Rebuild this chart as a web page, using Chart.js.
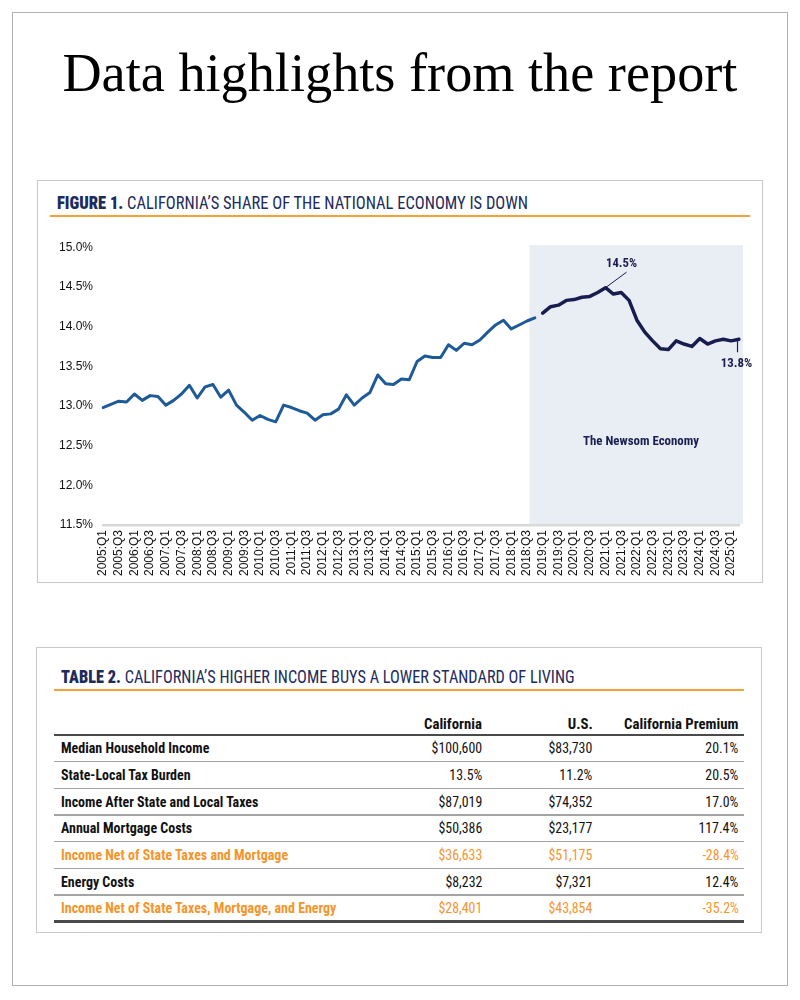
<!DOCTYPE html>
<html>
<head>
<meta charset="utf-8">
<script src="https://cdn.jsdelivr.net/npm/chart.js@4.4.1/dist/chart.umd.min.js"></script>
<style>
  :root { --cond: "Liberation Sans Narrow", "Roboto Condensed", "DejaVu Sans Condensed", "Liberation Sans", Arial, sans-serif; }
  html, body { margin: 0; padding: 0; background: #fff; }
  body { width: 800px; height: 1000px; position: relative; overflow: hidden; font-family: "Liberation Sans", Arial, sans-serif; }
  .frame { position: absolute; left: 12px; top: 12px; width: 774px; height: 972px; border: 1px solid #b3b3b3; }
  .main-title { position: absolute; left: 0; width: 800px; top: 38px; text-align: center; font-family: "Liberation Serif", "Times New Roman", serif; font-size: 54px; line-height: 70px; color: #000; white-space: nowrap; }
  .main-title span { display: inline-block; }
  .box { position: absolute; border: 1px solid #c9c9c9; background: #fff; }
  .ttl { position: absolute; white-space: nowrap; font-family: var(--cond); font-stretch: condensed; font-size: 17.5px; color: #1d2b5d; line-height: 20px; }
  .ttl span { display: inline-block; }
  .ttl b { font-weight: 900; }
  .rule { position: absolute; height: 2px; background: #f7a035; }
  #chartCanvas { position: absolute; left: 40px; top: 230px; }
  .cell { position: absolute; height: 20px; line-height: 20px; white-space: nowrap; font-family: var(--cond); font-stretch: condensed; font-size: 14px; color: #111; }
  .cell span { display: inline-block; }
  .lbl { font-weight: bold; }
  .hdr { font-weight: bold; }
  .num { font-weight: normal; }
  .hl { color: #f5952a; }
  .tline { position: absolute; left: 54px; width: 690px; }
</style>
</head>
<body>
<div class="frame"></div>
<div class="main-title"><span id="mainTitle">Data highlights from the report</span></div>

<div class="box" style="left:37px; top:180px; width:724px; height:401px;"></div>
<div class="ttl" style="left:57px; top:193px;"><span id="figTitle"><b>FIGURE 1.</b> CALIFORNIA’S SHARE OF THE NATIONAL ECONOMY IS DOWN</span></div>
<div class="rule" style="left:50px; top:215px; width:700px;"></div>
<canvas id="chartCanvas" width="720" height="350"></canvas>

<div class="box" style="left:36px; top:647px; width:724px; height:284px;"></div>
<div class="ttl" style="left:61px; top:667px;"><span id="tabTitle"><b>TABLE 2.</b> CALIFORNIA’S HIGHER INCOME BUYS A LOWER STANDARD OF LIVING</span></div>
<div class="rule" style="left:54px; top:689px; width:690px;"></div>
<div id="tableArea"></div>

<script>
// ---------------- DATA ----------------
const quarterLabels = [
  '2005:Q1','2005:Q2','2005:Q3','2005:Q4',
  '2006:Q1','2006:Q2','2006:Q3','2006:Q4',
  '2007:Q1','2007:Q2','2007:Q3','2007:Q4',
  '2008:Q1','2008:Q2','2008:Q3','2008:Q4',
  '2009:Q1','2009:Q2','2009:Q3','2009:Q4',
  '2010:Q1','2010:Q2','2010:Q3','2010:Q4',
  '2011:Q1','2011:Q2','2011:Q3','2011:Q4',
  '2012:Q1','2012:Q2','2012:Q3','2012:Q4',
  '2013:Q1','2013:Q2','2013:Q3','2013:Q4',
  '2014:Q1','2014:Q2','2014:Q3','2014:Q4',
  '2015:Q1','2015:Q2','2015:Q3','2015:Q4',
  '2016:Q1','2016:Q2','2016:Q3','2016:Q4',
  '2017:Q1','2017:Q2','2017:Q3','2017:Q4',
  '2018:Q1','2018:Q2','2018:Q3','2018:Q4',
  '2019:Q1','2019:Q2','2019:Q3','2019:Q4',
  '2020:Q1','2020:Q2','2020:Q3','2020:Q4',
  '2021:Q1','2021:Q2','2021:Q3','2021:Q4',
  '2022:Q1','2022:Q2','2022:Q3','2022:Q4',
  '2023:Q1','2023:Q2','2023:Q3','2023:Q4',
  '2024:Q1','2024:Q2','2024:Q3','2024:Q4',
  '2025:Q1','2025:Q2'
];

// California share of US GDP (%), 2005:Q1 - 2018:Q4
const shareBeforeNewsom = [
  12.98, 13.02, 13.06, 13.05,
  13.15, 13.07, 13.13, 13.12,
  13.01, 13.07, 13.15, 13.26,
  13.10, 13.24, 13.27, 13.11,
  13.20, 13.01, 12.92, 12.82,
  12.88, 12.83, 12.80, 13.01,
  12.98, 12.94, 12.91, 12.82,
  12.89, 12.90, 12.96, 13.14,
  13.01, 13.10, 13.17, 13.39,
  13.28, 13.27, 13.34, 13.33,
  13.56, 13.63, 13.61, 13.61,
  13.77, 13.70, 13.79, 13.77,
  13.83, 13.93, 14.02, 14.08,
  13.97, 14.02, 14.07, 14.11
];

// California share of US GDP (%), 2019:Q1 - 2025:Q2 ("The Newsom Economy")
const shareNewsom = [
  14.17, 14.25, 14.27, 14.33,
  14.34, 14.37, 14.38, 14.43,
  14.49, 14.41, 14.43, 14.33,
  14.08, 13.93, 13.82, 13.72,
  13.71, 13.82, 13.78, 13.75,
  13.85, 13.78, 13.82, 13.84,
  13.82, 13.84
];

const yTickMin = 11.5, yTickMax = 15.0, yTickStep = 0.5;
const newsomStartLabel = '2018:Q3';
const peakLabel = '14.5%';
const endLabel = '13.8%';
const shadeLabel = 'The Newsom Economy';

const columnHeaders = ['California', 'U.S.', 'California Premium'];
const rowLabels = [
  'Median Household Income',
  'State-Local Tax Burden',
  'Income After State and Local Taxes',
  'Annual Mortgage Costs',
  'Income Net of State Taxes and Mortgage',
  'Energy Costs',
  'Income Net of State Taxes, Mortgage, and Energy'
];
const californiaValues = ['$100,600', '13.5%', '$87,019', '$50,386', '$36,633', '$8,232', '$28,401'];
const usValues = ['$83,730', '11.2%', '$74,352', '$23,177', '$51,175', '$7,321', '$43,854'];
const premiumValues = ['20.1%', '20.5%', '17.0%', '117.4%', '-28.4%', '12.4%', '-35.2%'];
const highlightRows = [4, 6];

// ---------------- CHART ----------------
const beforeData = shareBeforeNewsom.concat(shareNewsom.map(() => null));
const newsomData = shareBeforeNewsom.map(() => null).concat(shareNewsom);

const tickFont = { family: '"Liberation Sans", Arial, sans-serif', size: 12 };
const condFont = '"Liberation Sans Narrow", "Roboto Condensed", "DejaVu Sans Condensed", "Liberation Sans", Arial, sans-serif';

function fitText(ctx, text, cx, cy, targetW) {
  const w = ctx.measureText(text).width;
  const s = targetW / w;
  ctx.save();
  ctx.translate(cx, cy);
  ctx.scale(s, 1);
  ctx.textAlign = 'center';
  ctx.textBaseline = 'middle';
  ctx.fillText(text, 0, 0);
  ctx.restore();
}

const shadePlugin = {
  id: 'shade',
  beforeDraw(chart) {
    const { ctx, chartArea, scales } = chart;
    const x = scales.x, y = scales.y;
    const i0 = quarterLabels.indexOf(newsomStartLabel);
    const step = x.getPixelForValue(i0 + 1) - x.getPixelForValue(i0);
    const left = x.getPixelForValue(i0) + step * 0.3;
    const right = chartArea.right + 4;
    const top = y.getPixelForValue(yTickMax) - 2;
    const bottom = chartArea.bottom - 1;
    ctx.save();
    ctx.fillStyle = '#e9eef5';
    ctx.fillRect(left, top, right - left, bottom - top);
    ctx.restore();
  }
};

const annotationPlugin = {
  id: 'annotations',
  afterDatasetsDraw(chart) {
    const { ctx, scales } = chart;
    const x = scales.x, y = scales.y;
    const n0 = shareBeforeNewsom.length;
    let peakIdx = 0;
    shareNewsom.forEach((v, i) => { if (v > shareNewsom[peakIdx]) peakIdx = i; });
    const px = x.getPixelForValue(n0 + peakIdx), py = y.getPixelForValue(shareNewsom[peakIdx]);
    ctx.save();
    ctx.strokeStyle = '#1a1e50';
    ctx.lineWidth = 1;
    ctx.beginPath();
    ctx.moveTo(px, py);
    ctx.lineTo(px + 21, py - 15.5);
    ctx.stroke();
    const lastIdx = shareNewsom.length - 1;
    const ex = x.getPixelForValue(n0 + lastIdx) - 1.5, ey = y.getPixelForValue(shareNewsom[lastIdx]);
    ctx.lineWidth = 1.2;
    ctx.beginPath();
    ctx.moveTo(ex, ey);
    ctx.lineTo(ex, ey + 13);
    ctx.stroke();
    ctx.fillStyle = '#1a1e50';
    ctx.font = 'bold 13px ' + condFont;
    fitText(ctx, peakLabel, px + 16, py - 24, 31);
    fitText(ctx, endLabel, ex - 1, ey + 24.5, 31.5);
    ctx.font = 'bold 12.5px ' + condFont;
    fitText(ctx, shadeLabel, chart.chartArea.right - 98, y.getPixelForValue(12.55), 116);
    ctx.restore();
  }
};

new Chart(document.getElementById('chartCanvas').getContext('2d'), {
  type: 'line',
  data: {
    labels: quarterLabels,
    datasets: [
      { data: beforeData, borderColor: '#1e5a97', borderWidth: 3, pointRadius: 0, tension: 0,
        borderJoinStyle: 'round', borderCapStyle: 'round', spanGaps: false },
      { data: newsomData, borderColor: '#181d4f', borderWidth: 3.5, pointRadius: 0, tension: 0,
        borderJoinStyle: 'round', borderCapStyle: 'round', spanGaps: false }
    ]
  },
  options: {
    responsive: false,
    animation: false,
    events: [],
    layout: { padding: { left: 0, right: 21, top: 10, bottom: 0 } },
    plugins: { legend: { display: false }, tooltip: { enabled: false }, title: { display: false } },
    scales: {
      x: {
        type: 'category',
        offset: false,
        grid: { display: false, drawTicks: false },
        border: { display: true, color: '#d9d9d9', width: 2.5 },
        ticks: {
          autoSkip: false, maxRotation: 90, minRotation: 90, padding: 5,
          color: '#111', font: tickFont,
          callback: (value, index) => (index % 2 === 0 ? quarterLabels[index] : '')
        },
        afterFit: (s) => { s.height = 55; }
      },
      y: {
        min: yTickMin, max: yTickMax,
        grid: { display: false, drawTicks: false },
        border: { display: false },
        ticks: {
          stepSize: yTickStep, padding: 10, color: '#111', font: tickFont,
          callback: (v) => Number(v).toFixed(1) + '%'
        },
        afterFit: (s) => { s.width = 63; }
      }
    }
  },
  plugins: [shadePlugin, annotationPlugin]
});

// ---------------- TABLE ----------------
const area = document.getElementById('tableArea');
const rowH = 26.67;
const headerLineY = 735;
const colRight = [482.3, 592.7, 738.3];
const labelLeft = 60.7;

function addCell(text, cls, xLeftOrRight, centerY, alignRight) {
  const d = document.createElement('div');
  d.className = 'cell ' + cls;
  d.style.top = (centerY - 10) + 'px';
  if (alignRight) {
    d.style.left = (xLeftOrRight - 250) + 'px';
    d.style.width = '250px';
    d.style.textAlign = 'right';
  } else {
    d.style.left = xLeftOrRight + 'px';
  }
  const s = document.createElement('span');
  s.textContent = text;
  s.style.transformOrigin = alignRight ? 'right center' : 'left center';
  d.appendChild(s);
  area.appendChild(d);
  return s;
}
function addLine(y, h, color) {
  const l = document.createElement('div');
  l.className = 'tline';
  l.style.top = (y - h / 2) + 'px';
  l.style.height = h + 'px';
  l.style.background = color;
  area.appendChild(l);
}

const hdrSpans = [], lblSpans = [], numSpans = [];
columnHeaders.forEach((h, c) => hdrSpans.push(addCell(h, 'hdr', colRight[c], 724, true)));
addLine(headerLineY, 1.5, '#4a4a4a');
rowLabels.forEach((lab, r) => {
  const top = headerLineY + r * rowH;
  const cy = top + rowH / 2;
  const hl = highlightRows.includes(r) ? ' hl' : '';
  lblSpans.push(addCell(lab, 'lbl' + hl, labelLeft, cy, false));
  numSpans.push(addCell(californiaValues[r], 'num' + hl, colRight[0], cy, true));
  numSpans.push(addCell(usValues[r], 'num' + hl, colRight[1], cy, true));
  numSpans.push(addCell(premiumValues[r], 'num' + hl, colRight[2], cy, true));
  const last = r === rowLabels.length - 1;
  addLine(top + rowH, last ? 2.5 : 1.5, last ? '#4a4a4a' : '#a3a3a3');
});

// ---------------- FIT TEXT WIDTHS ----------------
function natural(el) { el.style.transform = 'none'; return el.getBoundingClientRect().width; }
function fitEl(el, w, origin) {
  const nw = natural(el);
  el.style.transformOrigin = origin;
  el.style.transform = 'scaleX(' + (w / nw) + ')';
}
fitEl(document.getElementById('mainTitle'), 675, 'center center');
fitEl(document.getElementById('figTitle'), 471, 'left center');
fitEl(document.getElementById('tabTitle'), 513.6, 'left center');

const fLbl = 275.3 / natural(lblSpans[6]);
lblSpans.forEach(s => { s.style.transform = 'scaleX(' + fLbl + ')'; });
const fNum = 50.6 / natural(numSpans[0]);
numSpans.forEach(s => { s.style.transform = 'scaleX(' + fNum + ')'; });
const fHdr = 114.3 / natural(hdrSpans[2]);
hdrSpans.forEach(s => { s.style.transform = 'scaleX(' + fHdr + ')'; });
</script>
</body>
</html>
